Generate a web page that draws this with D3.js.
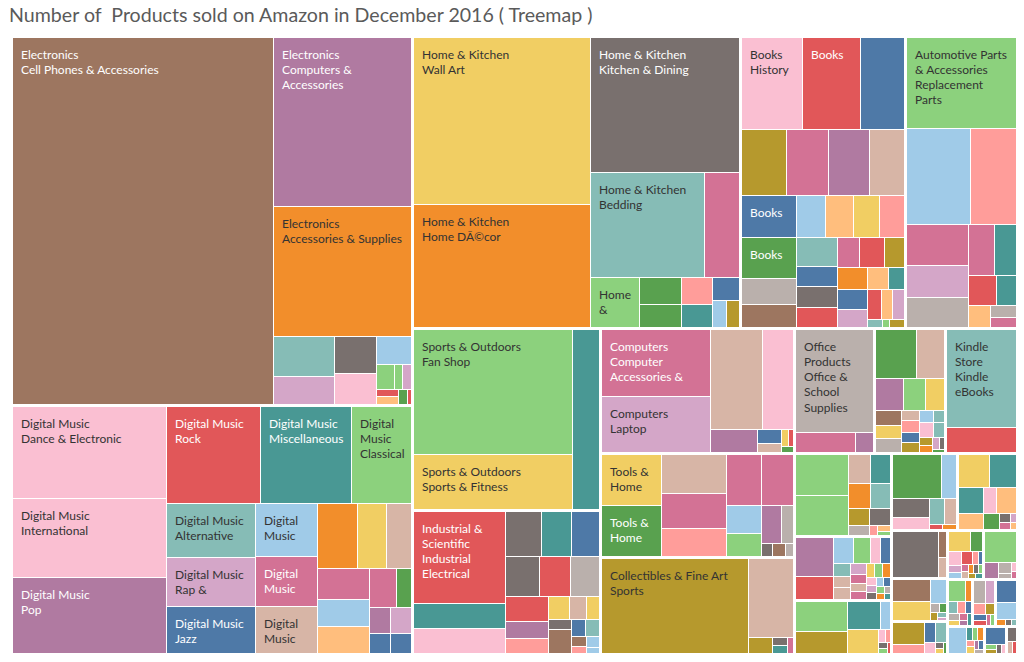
<!DOCTYPE html>
<html><head><meta charset="utf-8">
<script src="https://cdn.jsdelivr.net/npm/d3@7"></script>
<style>
body{margin:0;background:#fff;}
svg{display:block;font-family:Lato,"Open Sans",sans-serif;}
</style></head><body>
<svg id="chart" width="1024" height="662"></svg>
<script>
const chartTitle = "Number of  Products sold on Amazon in December 2016 ( Treemap )";

const groupNames = ["Electronics","Digital Music","Home & Kitchen","Books","Automotive Parts & Accessories",
  "Sports & Outdoors","Industrial & Scientific","Computers","Tools & Home Improvement","Collectibles & Fine Art",
  "Office Products","Clothing, Shoes & Jewelry","Kindle Store","Entertainment Collectibles","Patio, Lawn & Garden",
  "Appliances","Musical Instruments","Grocery & Gourmet Food","Everything Else","Baby Products","Video Games",
  "Health & Personal Care","Beauty","Pet Supplies","Arts, Crafts & Sewing","Toys & Games","Movies & TV","Software","Handmade"];

const electronics = [["Cell Phones & Accessories",94500],["Computers & Accessories",23184],["Accessories & Supplies",17802],
  ["Camera & Photo",2440],["Portable Audio & Video",1708],["Car & Vehicle Electronics",1554],["Television & Video",1260],
  ["Headphones",980],["Home Audio",450],["Security & Surveillance",200],["Wearable Technology",225],["Video Projectors",150],
  ["Office Electronics",170],["eBook Readers",130],["Power Accessories",70]];
const digitalMusic = [["Dance & Electronic",14100],["International",12100],["Pop",11650],["Rock",9056],["Miscellaneous",8850],
  ["Classical",5900],["Alternative Rock",4760],["Rap & Hip-Hop",4319],["Jazz",4143],["Country",3198],["R&B",3014],["Blues",2891],
  ["Christian",2550],["Folk",1873],["Children's Music",1614],["Broadway & Vocalists",1599],["Soundtracks",1439],["New Age",1386],
  ["World Music",1052],["Latin Music",584],["Opera & Vocal",560],["Classic Rock",560],["Hard Rock & Metal",409],["Gospel",409]];
const homeKitchen = [["Wall Art",29200],["Home DÃ©cor",21500],["Kitchen & Dining",20000],["Bedding",11900],["Furniture",3640],
  ["Bath",2450],["Storage & Organization",1120],["Seasonal Décor",950],["Artwork",820],["Heating, Cooling & Air Quality",700],
  ["Irons & Steamers",600],["Vacuums & Floor Care",380],["Event & Party Supplies",350]];
const books = [["History",5640],["Literature & Fiction",5300],["Biographies & Memoirs",4100],["Arts & Photography",2926],
  ["Children's Books",2790],["Religion & Spirituality",2654],["Politics & Social Sciences",2313],["Mystery, Thriller & Suspense",2303],
  ["Science Fiction & Fantasy",2246],["Health, Fitness & Dieting",1460],["Business & Money",1236],["Science & Math",1240],
  ["Cookbooks, Food & Wine",1196],["Comics & Graphic Novels",1107],["Crafts, Hobbies & Home",1063],["Humor & Entertainment",1137],
  ["Teen & Young Adult",842],["Travel",842],["Romance",800],["Self-Help",665],["Parenting & Relationships",696],["Law",605],
  ["Reference",689],["Education & Teaching",595],["Medical Books",532],["Computers & Technology",475],
  ["Engineering & Transportation",380],["Calendars",410],["Christian Books & Bibles",328],["Gay & Lesbian",367],
  ["Test Preparation",129],["Textbooks",55],["Other Books",129]];
const automotive = [["Replacement Parts",9980],["Interior Accessories",6083],["Exterior Accessories",4467],["Tools & Equipment",2551],
  ["Lights & Lighting Accessories",1963],["Performance Parts & Accessories",1832],["Car Care",1359],["Oils & Fluids",1141],
  ["Motorcycle & Powersports",869],["Paint, Body & Trim",590],["Tires & Wheels",489],["RV Parts & Accessories",317],
  ["Heavy Duty & Commercial Vehicle",260]];
const sportsOutdoors = [["Fan Shop",19739],["Sports & Fitness",8737],["Outdoor Recreation",4866]];
const industrial = [["Industrial Electrical",8400],["Lab & Scientific Products",2300],["Test, Measure & Inspect",2300],
  ["Power Transmission Products",1656],["Occupational Health & Safety",1380],["Hydraulics, Pneumatics & Plumbing",1288],
  ["Material Handling",1373],["Janitorial & Sanitation",1263],["Abrasive & Finishing",1153],["Additive Manufacturing",1098],
  ["Commercial Door Products",705],["Cutting Tools",673],["Fasteners",480],["Filtration",366],["Food Service Equipment",297],
  ["Industrial Hardware",229],["Robotics",552],["Retail Store Fixtures",239],["Science Education",239],["Tapes & Adhesives",163],
  ["Packaging & Shipping",101],["Medical Supplies",145],["Professional Dental",82]];
const computers = [["Computer Accessories & Peripherals",7338],["Laptop Accessories",6209],["Computer Components",5165],
  ["Data Storage",3140],["Networking Products",1091],["Monitors",343],["Tablet Accessories",237],["Printers",116],["Scanners",95],["Servers",74]];
const toolsHome = [["Power & Hand Tools",3064],["Lighting & Ceiling Fans",3064],["Kitchen & Bath Fixtures",2549],["Hardware",2343],
  ["Electrical",1791],["Building Supplies",1766],["Safety & Security",1662],["Painting Supplies",973],["Measuring & Layout",793],
  ["Welding & Soldering",814],["Storage & Home Organization",466],["Rough Plumbing",140],["Heating & Cooling",159],["Lawn & Garden Tools",106]];
const collectibles = [["Sports",14188],["Entertainment",3615],["Fine Art",396],["Coins & Currency",130],["Stamps",115],["Other Collectibles",99]];
const officeProducts = [["Office & School Supplies",8190],["Office Furniture & Lighting",1260],["Office Electronics",378]];
const clothing = [["Women",2049],["Men",1418],["Girls",889],["Boys",718],["Baby",616],["Novelty & More",410],["Handbags & Wallets",333],
  ["Costumes & Accessories",359],["Luggage & Travel Gear",195],["Shoes",215],["Jewelry",195],["Watches",195],["Uniforms, Work & Safety",184],
  ["Sunglasses",147],["Accessories",220],["Surf, Skate & Street",176],["Sport Specific Clothing",107],["Adaptive Clothing",95],
  ["Fashion Hoodies",88],["Active Wear",58],["Socks",49]];
const kindleStore = [["Kindle eBooks",6968],["Kindle Singles",1815]];
const entertainment = [["Posters",2184],["Movie Memorabilia",2129],["Music Memorabilia",647],["Autographs",588],["Props",578],
  ["Costumes",525],["Games",355],["Photographs",218],["Toys",355],["Trading Cards",88],["Figures",76],["Other",55]];
const patioGarden = [["Gardening & Lawn Care",1516],["Outdoor Décor",918],["Grills & Outdoor Cooking",546],["Patio Furniture",464],
  ["Outdoor Lighting",273],["Pest Control",273],["Outdoor Heating",232],["Generators",196],["Snow Removal",214],["Pools & Spas",168],
  ["Bird & Wildlife Care",151],["Farm & Ranch",134],["Plants & Seeds",134],["Watering Equipment",113],["Mowers",113],
  ["Outdoor Power Tools",113],["Fencing",84],["Garden Structures",74],["Hammocks",74],["Hot Tubs",63],["Composting",63],
  ["Planters",53],["Pond Supplies",53],["Trimmers",42],["Lawn Mower Parts",42]];
const appliances = [["Refrigerators",1614],["Ranges",1168],["Dishwashers",935],["Freezers",295],["Washers & Dryers",773],
  ["Microwaves",90],["Ice Makers",71],["Wine Cellars",59],["Cooktops",43],["Parts",32]];
const musical = [["Guitars",2207],["Keyboards",690],["Drums & Percussion",715],["Studio Recording",451],["Amplifiers & Effects",418],
  ["Live Sound & Stage",314],["Microphones",68],["Band & Orchestra",73]];
const grocery = [["Snack Foods",1068],["Beverages",897],["Candy & Chocolate",691],["Cooking & Baking",409],["Breakfast Foods",358],
  ["Pantry Staples",541],["Gourmet Gifts",281],["Herbs & Spices",100],["Baby Food",78],["Fresh Produce",56],["Sauces",45]];
const everythingElse = [["Everything Else",2206],["Gift Cards",228],["Magazine Subscriptions",171]];
const baby = [["Nursery",894],["Strollers",809],["Car Seats",412],["Feeding",90],["Diapering",67],["Gear",56],["Baby Toys",45],["Bathing",34]];
const videoGames = [["PlayStation 4",739],["Xbox One",302],["Nintendo",242],["PC Games",242],["Accessories",131],["Retro",56],
  ["Digital Games",45],["Mac Games",34]];
const health = [["Vitamins",475],["Medical Supplies",271],["Personal Care",183],["Household Supplies",95],["Health Care",83],
  ["Sports Nutrition",150],["Baby & Child Care",71],["Stationery",60],["Sexual Wellness",60],["Vision Care",60],["Oral Care",48],
  ["Diet",48],["Wellness",48],["Shaving",36],["Massage",36]];
const beauty = [["Skin Care",1066],["Makeup",238],["Hair Care",155],["Fragrance",71],["Tools & Accessories",48],["Bath & Body",36]];
const petSupplies = [["Dogs",388],["Cats",139],["Fish",126],["Birds",101],["Horses",88],["Reptiles",76],["Small Animals",63],
  ["Pet Food",63],["Pet Beds",50],["Pet Toys",50]];
const artsCrafts = [["Painting",300],["Sewing",246],["Scrapbooking",150],["Knitting",123],["Beading",87],["Craft Supplies",74],
  ["Fabric",62],["Party Supplies",50]];
const toysGames = [["Action Figures",475],["Building Toys",384],["Puzzles",60],["Dolls",48],["Board Games",36]];
const moviesTv = [["TV Series",506],["Movies",83],["Blu-ray",71],["DVD",71],["Kids & Family",60],["Anime",60],["Documentary",48],
  ["Fitness",48],["Classics",36]];
const software = [["Business & Office",387],["Education",65],["Antivirus",52],["Utilities",52],["Games Software",39]];
const handmade = [["Jewelry",160],["Home Décor",80],["Artwork",64]];

const groupLeaves = [electronics,digitalMusic,homeKitchen,books,automotive,sportsOutdoors,industrial,computers,toolsHome,
  collectibles,officeProducts,clothing,kindleStore,entertainment,patioGarden,appliances,musical,grocery,everythingElse,baby,
  videoGames,health,beauty,petSupplies,artsCrafts,toysGames,moviesTv,software,handmade];

// ---- styles (colour slot of each cell, in the same order as the data) ----
const groupHues = [
  "br pu o lt lpu gy lp lb lg lg lpu r lo g r",
  "lp lp pu r t lg lt lpu b lb p lbr o y lbr p lb lo p g pu lpu b b",
  "y o gy lt p lg g g lr t b lb ol",
  "lp r b ol p pu lbr b g lgy br lb lo y lr lt b gy r p r ol o b lpu lo t r lo lpu lt lg ol",
  "lg lb lr p lpu lgy p t r t lo lgy p",
  "lg y t",
  "r t lp gy t b gy r lgy r pu lr y lbr y gy br b lt br lr lb lb",
  "p lpu lbr lp pu b lbr y r g",
  "y g lbr p lr p p lb lg pu lgy gy br lgy",
  "ol lbr ol gy t p",
  "lgy p pu",
  "g lbr pu lg y br y lgy lbr lr b ol lb lt lp lt ol o lpu gy g",
  "lt r",
  "lg lg lbr t o lt ol lgy gy lr lo lg",
  "pu r lb lg lp b lt lbr lbr lpu p lbr p y lg o lp lpu gy lb b lg o lgy t",
  "lg ol t lb y lp lr gy lg r",
  "g lb gy lp lt lbr r o",
  "y t t lo lp lo g gy p lpu lo",
  "gy br lbr",
  "br y lb lgy g ol lt lpu",
  "ol lr b lt lp gy y g",
  "y g lp lpu lb r lr b p lbr o gy lg ol t",
  "lg pu lgy lgy lp p",
  "lg o lt lr b lgy y p pu t",
  "lgy lpu lr ol b r p lg",
  "b lb o gy lt",
  "lb t lg o lr y pu b lgy",
  "b lg ol gy lp",
  "gy lbr r"
];
const palette = {b:"#4E79A7", lb:"#A0CBE8", o:"#F28E2B", lo:"#FFBE7D", g:"#59A14F", lg:"#8CD17D", ol:"#B6992D", y:"#F1CE63",
  t:"#499894", lt:"#86BCB6", r:"#E15759", lr:"#FF9D9A", gy:"#79706E", lgy:"#BAB0AC", p:"#D37295", lp:"#FABFD2",
  pu:"#B07AA1", lpu:"#D4A6C8", br:"#9D7660", lbr:"#D7B5A6"};
const lightTextSlots = new Set(["b","g","t","r","gy","p","pu","br"]);

const W = 1003, H = 615, LEFT = 13, TOP = 38;

const rootData = {name: "Amazon", children: groupNames.map((name, i) => {
  const hues = groupHues[i].split(" ");
  return {name, children: groupLeaves[i].map(([sub, v], j) => ({name: sub, main: name, value: v, hue: hues[j]}))};
})};

const root = d3.hierarchy(rootData).sum(d => d.value || 0);
d3.treemap().tile(d3.treemapSquarify).size([W, H])
  .paddingInner(n => n.depth === 0 ? 3 : 1).round(true)(root);

const color = d3.scaleOrdinal().domain(Object.keys(palette)).range(Object.values(palette));

const svg = d3.select("#chart");
svg.append("text").attr("x", 9).attr("y", 22)
  .attr("xml:space", "preserve").style("white-space", "pre")
  .attr("font-size", 19.6).attr("fill", "#5a5a5a").text(chartTitle);

const g = svg.append("g").attr("transform", `translate(${LEFT},${TOP})`);
const leaves = root.leaves();

g.selectAll("rect.cell").data(leaves).join("rect").attr("class", "cell")
  .attr("x", d => d.x0).attr("y", d => d.y0)
  .attr("width", d => Math.max(0, d.x1 - d.x0)).attr("height", d => Math.max(0, d.y1 - d.y0))
  .attr("fill", d => color(d.data.hue));

const ctx = document.createElement("canvas").getContext("2d");
ctx.font = "12px Lato";
function wrapInto(text, avail, lines) {
  let cur = "";
  for (const word of text.split(" ")) {
    const trial = cur ? cur + " " + word : word;
    if (ctx.measureText(trial).width <= avail) { cur = trial; continue; }
    if (cur) lines.push(cur);
    if (ctx.measureText(word).width > avail) return false;
    cur = word;
  }
  if (cur) lines.push(cur);
  return true;
}
const LINE0 = 20.5, LH = 15.3;
function labelLines(d) {
  const w = d.x1 - d.x0, h = d.y1 - d.y0, avail = w - 14;
  const lines = [];
  if (wrapInto(d.data.main, avail, lines)) wrapInto(d.data.name, avail, lines);
  const out = [];
  for (let i = 0; i < lines.length; i++) {
    const base = LINE0 + i * LH;
    if (i === 0 ? h < 39 : base + 9 > h) break;
    out.push(lines[i]);
  }
  return out;
}

const labels = g.selectAll("text.lbl").data(leaves.filter(d => labelLines(d).length)).join("text")
  .attr("class", "lbl").attr("font-size", 12)
  .attr("fill", d => lightTextSlots.has(d.data.hue) ? "#ffffff" : "#333333");
labels.selectAll("tspan").data(d => labelLines(d).map((t, i) => ({t, i, d}))).join("tspan")
  .attr("x", o => o.d.x0 + 8).attr("y", o => o.d.y0 + LINE0 + o.i * LH).text(o => o.t);
</script>
</body></html>
